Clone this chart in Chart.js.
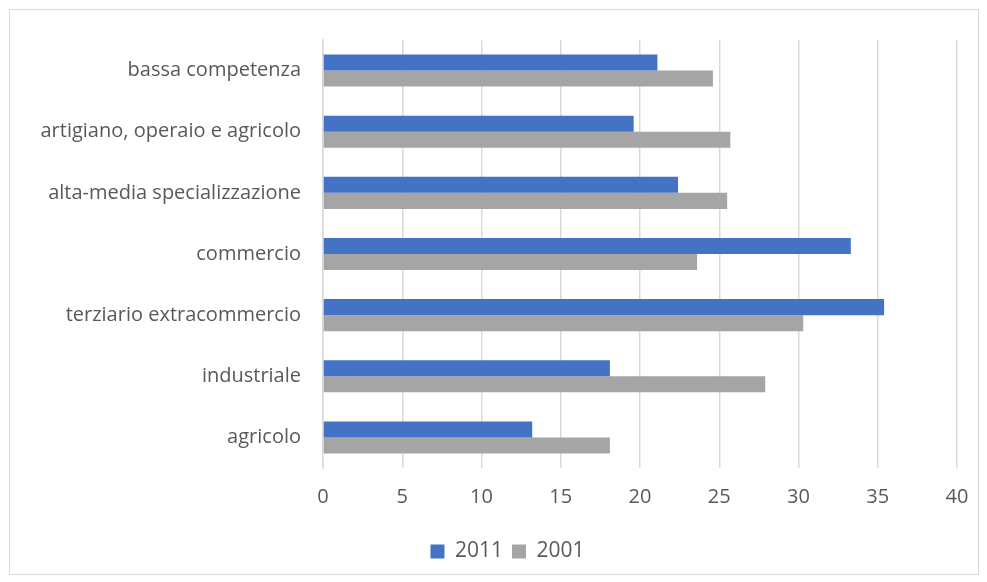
<!DOCTYPE html>
<html lang="it">
<head>
    <meta charset="UTF-8">
    <title>Occupati per professione 2001-2011</title>
    <style>
        body {
            margin: 0;
            background: #ffffff;
        }

        .wrap {
            position: relative;
            width: 987px;
            height: 582px;
        }

        .frame {
            position: absolute;
            left: 9px;
            top: 9px;
            width: 968px;
            height: 564px;
            border: 1px solid #d9d9d9;
        }

        canvas {
            position: absolute;
            left: 0;
            top: 0;
        }
    </style>
</head>
<body>
    <div class="wrap">
        <div class="frame"></div>
        <canvas id="chart" width="987" height="582"></canvas>
    </div>
    <script src="https://cdn.jsdelivr.net/npm/chart.js"></script>
    <script>
        // categories as they appear, top to bottom
        var categories = [
            'bassa competenza',
            'artigiano, operaio e agricolo',
            'alta-media specializzazione',
            'commercio',
            'terziario extracommercio',
            'industriale',
            'agricolo'
        ];
        var values2011 = [21.1, 19.6, 22.4, 33.3, 35.4, 18.1, 13.2];
        var values2001 = [24.6, 25.7, 25.5, 23.6, 30.3, 27.9, 18.1];
        var xTicks = [0, 5, 10, 15, 20, 25, 30, 35, 40];

        var textColor = '#595959';
        var fontFamily = '"Open Sans", Lato, sans-serif';

        // the original legend sits a bit right of the canvas centre
        var legendShift = {
            id: 'legendShift',
            beforeDraw: function (chart) {
                chart.legend.left += 29;
                chart.legend.right += 29;
            }
        };

        var ctx = document.getElementById('chart').getContext('2d');

        var chart = new Chart(ctx, {
            type: 'bar',
            data: {
                labels: categories,
                datasets: [{
                    label: '2011',
                    data: values2011,
                    backgroundColor: '#4472c4'
                }, {
                    label: '2001',
                    data: values2001,
                    backgroundColor: '#a5a5a5'
                }]
            },
            options: {
                indexAxis: 'y',
                responsive: false,
                animation: false,
                categoryPercentage: 0.525,
                barPercentage: 1.0,
                layout: {
                    padding: { left: 0, right: 30, top: 40, bottom: 10 }
                },
                plugins: {
                    legend: {
                        position: 'bottom',
                        labels: {
                            color: textColor,
                            font: { family: fontFamily, size: 21 },
                            boxWidth: 14,
                            boxHeight: 14,
                            padding: 9
                        }
                    },
                    tooltip: { enabled: false }
                },
                scales: {
                    x: {
                        min: 0,
                        max: 40,
                        afterBuildTicks: function (scale) {
                            scale.ticks = xTicks.map(function (v) { return { value: v }; });
                        },
                        afterFit: function (scale) {
                            scale.height = 64;
                        },
                        grid: {
                            color: '#d9d9d9',
                            lineWidth: 1.5,
                            drawTicks: false
                        },
                        border: { display: false },
                        ticks: {
                            color: textColor,
                            font: { family: fontFamily, size: 20 },
                            padding: 17
                        }
                    },
                    y: {
                        afterFit: function (scale) {
                            scale.width = 323;
                        },
                        grid: { display: false, drawTicks: false },
                        border: { display: true, color: '#d9d9d9', width: 1.5 },
                        ticks: {
                            color: textColor,
                            font: { family: fontFamily, size: 20 },
                            padding: 22
                        }
                    }
                }
            },
            plugins: [legendShift]
        });
    </script>
</body>
</html>
